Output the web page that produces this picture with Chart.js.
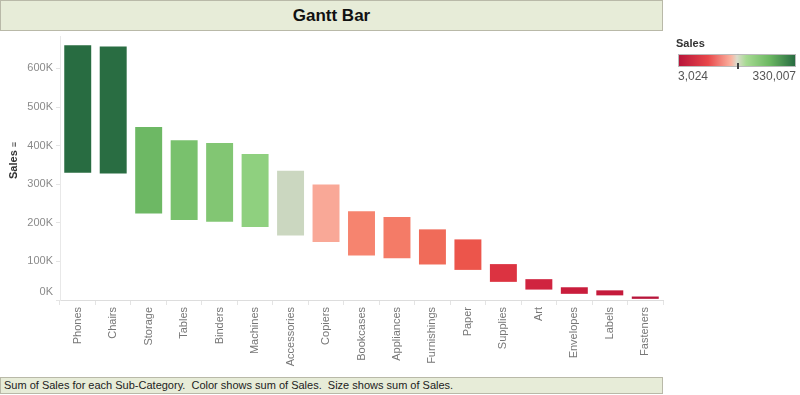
<!DOCTYPE html>
<html>
<head>
<meta charset="utf-8">
<script src="https://cdn.jsdelivr.net/npm/chart.js@4"></script>
<style>
  html, body { margin: 0; padding: 0; background: #fff; }
  body { width: 800px; height: 395px; position: relative; overflow: hidden; font-family: 'Liberation Sans', Arial, sans-serif; }
  #chart { position: absolute; left: 0; top: 0; }
  .band { position: absolute; left: 0; width: 663px; background: #e7ecd8; border: 1px solid #b9b9a8; box-sizing: border-box; }
  #title { top: 0; height: 31px; text-align: center; font-size: 17px; font-weight: bold; line-height: 30px; color: #111; }
  #footer { top: 377px; height: 17px; font-size: 11px; line-height: 15px; padding-left: 3px; color: #222; }
  #ytitle { position: absolute; left: 7px; top: 179px; transform: rotate(-90deg); transform-origin: left top; font-size: 11px; font-weight: bold; color: #333; }
  #legend { position: absolute; left: 676px; top: 37px; width: 122px; font-size: 12px; color: #555; }
  #legend .lt { font-weight: bold; color: #333; font-size: 11px; }
  #legend .ramp { margin: 5px 0 0 2px; width: 118px; height: 13px; border: 1px solid #bbb; box-sizing: border-box; position: relative;
    background: linear-gradient(to right, #b8153a 0%, #e8474a 25%, #fbb3a0 45%, #dcdccc 50%, #a6da92 58%, #6cb862 78%, #286c41 100%); }
  #legend .mark { position: absolute; left: 58px; top: 8px; width: 2px; height: 6px; background: #444; }
  #legend .lbl { display: flex; justify-content: space-between; margin: 2px 0 0 2px; width: 118px; }
</style>
</head>
<body>
<div id="title" class="band">Gantt Bar</div>
<canvas id="chart" width="800" height="395"></canvas>
<div id="ytitle">Sales <span style="font-size:9px">&#8801;</span></div>
<div id="legend">
  <div class="lt">Sales</div>
  <div class="ramp"><div class="mark"></div></div>
  <div class="lbl"><span>3,024</span><span>330,007</span></div>
</div>
<div id="footer" class="band">Sum of Sales for each Sub-Category.&nbsp; Color shows sum of Sales.&nbsp; Size shows sum of Sales.</div>
<script>
// Data
const subCategories = ['Phones', 'Chairs', 'Storage', 'Tables', 'Binders', 'Machines', 'Accessories', 'Copiers',
    'Bookcases', 'Appliances', 'Furnishings', 'Paper', 'Supplies', 'Art', 'Envelopes', 'Labels', 'Fasteners'];
const barStart = [330000, 328000, 224000, 207000, 203000, 189000, 167000, 150000,
    115000, 108000, 92000, 78000, 47000, 27000, 16000, 12000, 3000];
const barEnd = [660000, 657000, 448000, 414000, 407000, 378000, 335000, 299000,
    230000, 215000, 183000, 157000, 93000, 54000, 33000, 25000, 9000];
const yTicks = [0, 100000, 200000, 300000, 400000, 500000, 600000];

// colour per bar (sum of sales colour ramp)
const barColors = ['#286c41', '#296d42', '#6db864', '#79c16d', '#82c673', '#8fd07f', '#cbd7c0', '#f9a897',
    '#f6846f', '#f47b67', '#f06b59', '#ec554b', '#dc3341', '#d02440', '#c91d3c', '#c51a3b', '#b8153a'];

const tickFont = { family: "'Liberation Sans', Arial, sans-serif", size: 11 };

// y labels drawn from the scale, bottom one nudged up like the original
const yLabels = {
    id: 'yLabels',
    afterDraw(chart) {
        const ctx = chart.ctx;
        const y = chart.scales.y;
        ctx.save();
        ctx.font = '11px ' + tickFont.family;
        ctx.fillStyle = '#8a8a8a';
        ctx.textAlign = 'right';
        ctx.textBaseline = 'middle';
        yTicks.forEach(v => {
            const py = Math.min(y.getPixelForValue(v), chart.chartArea.bottom - 8);
            ctx.fillText((v / 1000) + 'K', 53, py);
        });
        ctx.restore();
    }
};

new Chart(document.getElementById('chart'), {
    type: 'bar',
    data: {
        labels: subCategories,
        datasets: [{
            data: subCategories.map((_, i) => [barStart[i], barEnd[i]]),
            backgroundColor: barColors,
            borderWidth: 0,
            barPercentage: 0.76,
            categoryPercentage: 1
        }]
    },
    options: {
        responsive: false,
        animation: false,
        layout: { padding: { left: 0, right: 137, top: 36, bottom: 0 } },
        plugins: { legend: { display: false }, tooltip: { enabled: false } },
        scales: {
            x: {
                offset: true,
                afterFit: s => { s.height = 95; },
                grid: { offset: true, drawOnChartArea: false, color: '#e4e4e4', tickLength: 5 },
                border: { color: '#dddddd' },
                ticks: { color: '#777777', font: tickFont, minRotation: 90, maxRotation: 90, padding: 2, autoSkip: false }
            },
            y: {
                min: 0,
                max: 684000,
                afterFit: s => { s.width = 60; },
                afterBuildTicks: s => { s.ticks = yTicks.map(v => ({ value: v })); },
                grid: { drawOnChartArea: false, color: '#e4e4e4', tickLength: 4 },
                border: { color: '#e8e8e8' },
                ticks: { display: false }
            }
        }
    },
    plugins: [yLabels]
});
</script>
</body>
</html>
